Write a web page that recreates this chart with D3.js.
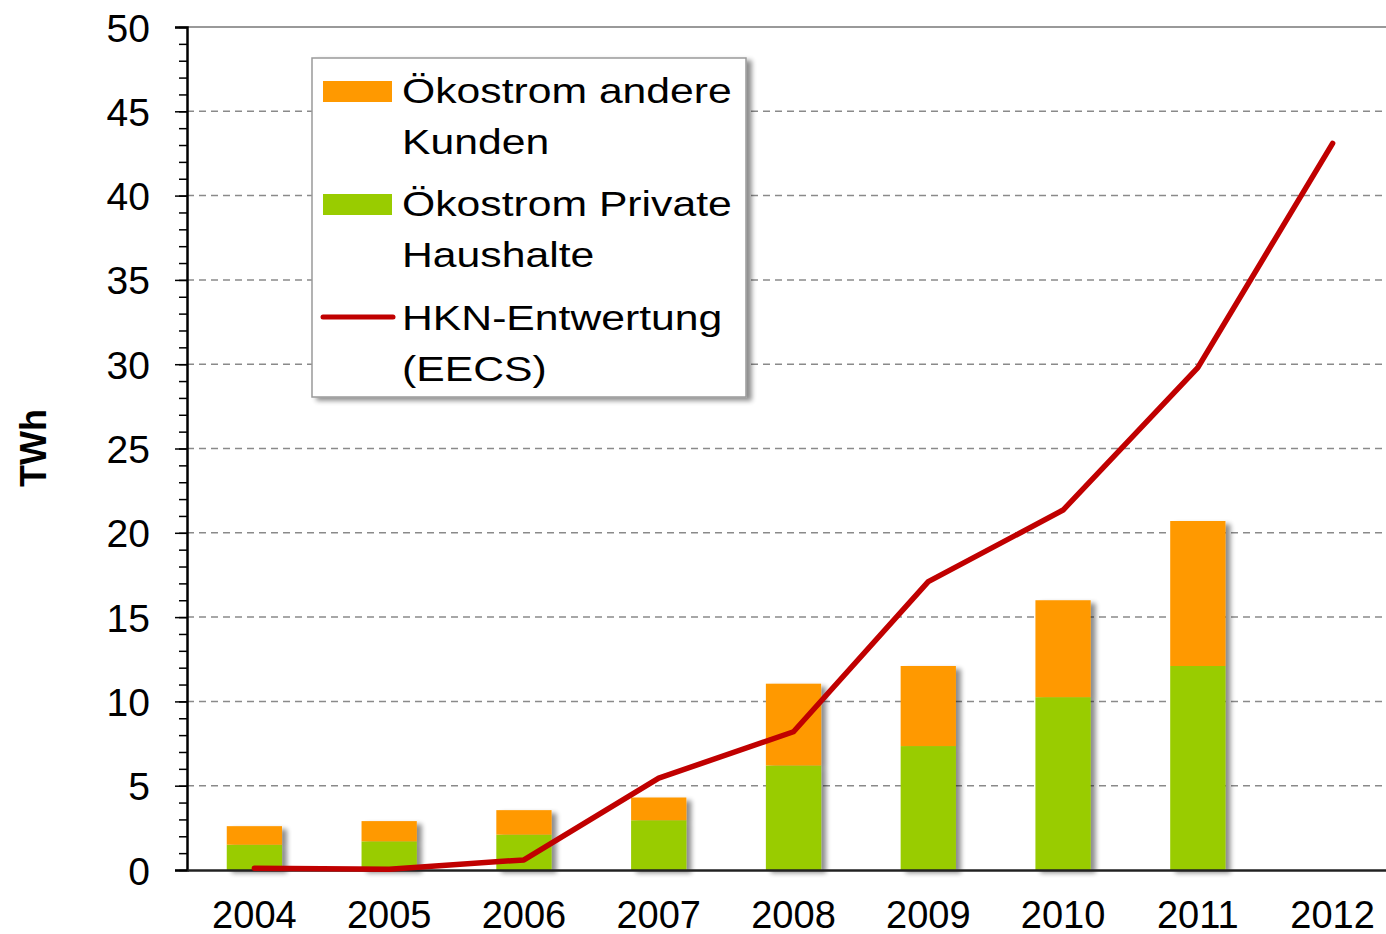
<!DOCTYPE html>
<html>
<head>
<meta charset="utf-8">
<script src="https://cdn.jsdelivr.net/npm/d3@7"></script>
<style>
  body { margin: 0; background: #fff; }
  text { font-family: "Liberation Sans", Arial, sans-serif; fill: #000; }
</style>
</head>
<body>
<div id="chart"></div>
<script>
var years = ["2004", "2005", "2006", "2007", "2008", "2009", "2010", "2011", "2012"];
var privateHH = [1.5, 1.7, 2.1, 2.95, 6.2, 7.35, 10.25, 12.1, null];
var otherCustomers = [1.1, 1.2, 1.45, 1.35, 4.85, 4.75, 5.75, 8.6, null];
var hknEECS = [0.1, 0.05, 0.6, 5.45, 8.2, 17.1, 21.35, 29.8, 43.1];
var yTicks = [0, 5, 10, 15, 20, 25, 30, 35, 40, 45, 50];

var W = 1386, H = 934;
var plotLeft = 187, plotTop = 27, plotBottom = 870, plotRight = 1400;

var svg = d3.select("#chart").append("svg")
    .attr("width", W)
    .attr("height", H);

var defs = svg.append("defs");
var f = defs.append("filter").attr("id", "shadow")
    .attr("x", "-20%").attr("y", "-20%").attr("width", "150%").attr("height", "150%");
f.append("feGaussianBlur").attr("in", "SourceAlpha").attr("stdDeviation", 2.5);
f.append("feOffset").attr("dx", 5).attr("dy", 3).attr("result", "off");
f.append("feComponentTransfer").append("feFuncA").attr("type", "linear").attr("slope", 0.45);
var fm = f.append("feMerge");
fm.append("feMergeNode");
fm.append("feMergeNode").attr("in", "SourceGraphic");

var x = d3.scaleBand()
    .domain(years)
    .range([plotLeft, plotRight])
    .paddingInner(0.59)
    .paddingOuter(0.295);

var y = d3.scaleLinear()
    .domain([0, 50])
    .range([plotBottom, plotTop]);

// gridlines
svg.append("g").selectAll("line")
    .data(yTicks.filter(function (d) { return d > 0 && d < 50; }))
    .enter().append("line")
    .attr("x1", plotLeft).attr("x2", W)
    .attr("y1", function (d) { return y(d); })
    .attr("y2", function (d) { return y(d); })
    .attr("stroke", "#8a8a8a")
    .attr("stroke-width", 1.5)
    .attr("stroke-dasharray", "7,5");

// top border
svg.append("line")
    .attr("x1", plotLeft).attr("x2", W)
    .attr("y1", y(50)).attr("y2", y(50))
    .attr("stroke", "#999")
    .attr("stroke-width", 2);

// stacked bars
var stackData = years.map(function (yr, i) {
    return { year: yr, priv: privateHH[i], other: otherCustomers[i] };
}).filter(function (d) { return d.priv != null; });

var barG = svg.append("g").attr("filter", "url(#shadow)");
stackData.forEach(function (d) {
    var g = barG.append("g");
    g.append("rect")
        .attr("x", x(d.year))
        .attr("width", x.bandwidth())
        .attr("y", y(d.priv))
        .attr("height", y(0) - y(d.priv))
        .attr("fill", "#99cc00");
    g.append("rect")
        .attr("x", x(d.year))
        .attr("width", x.bandwidth())
        .attr("y", y(d.priv + d.other))
        .attr("height", y(d.priv) - y(d.priv + d.other))
        .attr("fill", "#ff9900");
});

// y axis
var yAxis = d3.axisLeft(y).tickValues(yTicks).tickSize(12).tickPadding(25);
var yMinor = d3.axisLeft(y).tickValues(d3.range(0, 51, 1)).tickSize(8).tickFormat("");

svg.append("g")
    .attr("transform", "translate(" + plotLeft + ",0)")
    .call(yMinor)
    .call(function (g) { g.select(".domain").remove(); })
    .selectAll("line").attr("stroke", "#000").attr("stroke-width", 1.5);

var ya = svg.append("g")
    .attr("transform", "translate(" + plotLeft + ",0)")
    .call(yAxis);
ya.select(".domain").attr("stroke", "#000").attr("stroke-width", 2.5);
ya.selectAll("line").attr("stroke", "#000").attr("stroke-width", 1.5);
ya.selectAll("text")
    .style("font-size", "39px")
    .style("font-family", "'Liberation Sans', Arial, sans-serif")
    .attr("dy", "0.36em");

// x axis
var xa = svg.append("g")
    .attr("transform", "translate(0," + plotBottom + ")")
    .call(d3.axisBottom(x).tickSize(0));
xa.select(".domain").attr("stroke", "#222").attr("stroke-width", 2.5);
xa.selectAll("text")
    .attr("y", 58)
    .attr("dy", null)
    .style("font-size", "38px")
    .style("font-family", "'Liberation Sans', Arial, sans-serif");

// line
var line = d3.line()
    .x(function (d, i) { return x(years[i]) + x.bandwidth() / 2; })
    .y(function (d) { return y(d); });

svg.append("path")
    .datum(hknEECS)
    .attr("d", line)
    .attr("fill", "none")
    .attr("stroke", "#c00000")
    .attr("stroke-width", 5.5)
    .attr("stroke-linecap", "round")
    .attr("stroke-linejoin", "round");

// y label
svg.append("text")
    .attr("transform", "translate(46,448) rotate(-90)")
    .attr("text-anchor", "middle")
    .style("font-size", "36px")
    .style("font-weight", "bold")
    .text("TWh");

// legend
var legend = svg.append("g");
legend.append("rect")
    .attr("x", 312).attr("y", 58)
    .attr("width", 434).attr("height", 339)
    .attr("fill", "#fff")
    .attr("stroke", "#9a9a9a")
    .attr("stroke-width", 1.5)
    .attr("filter", "url(#shadow)");

var legendItems = [
    { lines: ["Ökostrom andere", "Kunden"], color: "#ff9900", type: "rect", y: 103 },
    { lines: ["Ökostrom Private", "Haushalte"], color: "#99cc00", type: "rect", y: 216 },
    { lines: ["HKN-Entwertung", "(EECS)"], color: "#c00000", type: "line", y: 330 }
];

legendItems.forEach(function (it) {
    if (it.type === "rect") {
        legend.append("rect")
            .attr("x", 323).attr("y", it.y - 22)
            .attr("width", 69).attr("height", 21)
            .attr("fill", it.color);
    } else {
        legend.append("line")
            .attr("x1", 323).attr("x2", 393)
            .attr("y1", it.y - 13).attr("y2", it.y - 13)
            .attr("stroke", it.color)
            .attr("stroke-width", 5)
            .attr("stroke-linecap", "round");
    }
    it.lines.forEach(function (t, j) {
        legend.append("text")
            .attr("transform", "translate(402," + (it.y + j * 51) + ") scale(1.22,1)")
            .style("font-size", "35px")
            .text(t);
    });
});
</script>
</body>
</html>
